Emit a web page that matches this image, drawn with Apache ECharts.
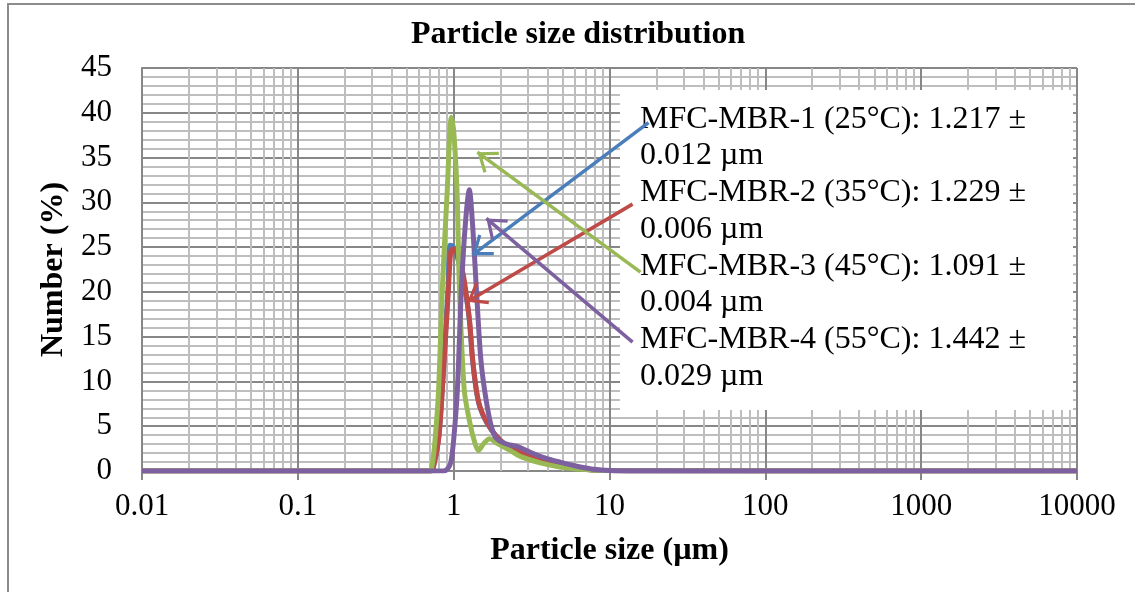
<!DOCTYPE html>
<html>
<head>
<meta charset="utf-8">
<script src="https://cdn.jsdelivr.net/npm/echarts@6/dist/echarts.min.js"></script>
<style>
  html, body { margin: 0; padding: 0; background: #fff; }
  #chart { width: 1135px; height: 592px; }
</style>
</head>
<body>
<div id="chart"></div>
<script>
// 数据
var xTickLabels = ['0.01', '0.1', '1', '10', '100', '1000', '10000'];

var size1 = [0.01, 0.71, 0.74, 0.80, 0.845, 0.92, 0.95, 0.99, 1.05, 1.14, 1.22, 1.27, 1.32, 1.40, 1.48, 1.64, 1.9, 2.3, 3.1, 4.2, 5.6, 7.5, 10, 15, 10000];
var number1 = [0, 0, 0.4, 3.6, 9.2, 20.5, 25.2, 25.1, 24, 21.5, 18.8, 16.2, 12.5, 8.9, 7.0, 5.3, 3.8, 2.6, 1.8, 1.0, 0.45, 0.15, 0.05, 0, 0];

var size2 = [0.01, 0.72, 0.74, 0.80, 0.845, 0.925, 0.96, 1.0, 1.06, 1.15, 1.22, 1.27, 1.32, 1.40, 1.48, 1.64, 1.9, 2.3, 3.1, 4.2, 5.6, 7.5, 10, 15, 10000];
var number2 = [0, 0, 0.4, 3.5, 9, 20.2, 24.6, 24.8, 24, 22, 19, 16.5, 12.7, 9, 7.1, 5.4, 3.8, 2.6, 1.8, 1.0, 0.45, 0.15, 0.05, 0, 0];

var size3 = [0.01, 0.70, 0.73, 0.76, 0.80, 0.845, 0.91, 0.966, 1.0, 1.05, 1.09, 1.17, 1.27, 1.37, 1.44, 1.55, 1.7, 1.9, 2.3, 2.7, 3.6, 4.8, 6.5, 9, 10000];
var number3 = [0, 0, 0.8, 3.5, 9, 20.2, 31.4, 39.5, 38, 31.4, 20.2, 9, 5.4, 3.1, 2.3, 3.0, 3.6, 3.1, 2.3, 1.6, 0.9, 0.45, 0.2, 0.05, 0];

var size4 = [0.01, 0.86, 0.92, 0.96, 1.0, 1.056, 1.12, 1.19, 1.26, 1.32, 1.40, 1.49, 1.58, 1.72, 1.85, 2.05, 2.3, 2.6, 3.1, 3.8, 4.8, 6.5, 8.8, 12, 10000];
var number4 = [0, 0, 0.3, 1.0, 3.5, 9, 20.2, 27.7, 31.4, 27.7, 20.2, 12.7, 9, 5.4, 3.8, 3.2, 2.9, 2.7, 2.1, 1.5, 1.0, 0.45, 0.1, 0.02, 0];

var legendLines = [
  'MFC-MBR-1 (25°C): 1.217 ±', '0.012 µm',
  'MFC-MBR-2 (35°C): 1.229 ±', '0.006 µm',
  'MFC-MBR-3 (45°C): 1.091 ±', '0.004 µm',
  'MFC-MBR-4 (55°C): 1.442 ±', '0.029 µm'
];

var FONT = 'Liberation Serif, Times New Roman, serif';
var colors = ['#4A7EBB', '#BE4B48', '#98B954', '#7D60A0'];
// open arrow head (V shape) pointing up, tip at the centre of its box
var chevron = 'path://M10,-14.5 L10.01,-14.5 L10,-14.49 Z M10,0 L20,13 L18,14.5 L10,4 L2,14.5 L0,13 Z';

function zip (xs, ys) {
  return xs.map(function (x, i) { return [x, ys[i]]; });
}

// minor log gridlines 2..9 in each decade
var minorX = [];
[0.01, 0.1, 1, 10, 100, 1000].forEach(function (d) {
  for (var k = 2; k <= 9; k++) minorX.push(+(k * d).toPrecision(3));
});

function curve (data, color, arrow) {
  return {
    type: 'line',
    data: data,
    smooth: 0.3,
    showSymbol: false,
    silent: true,
    lineStyle: { color: color, width: 5 },
    itemStyle: { color: color },
    z: 2,
    markLine: {
      silent: true,
      symbol: ['none', chevron],
      symbolSize: [26, 38],
      label: { show: false },
      lineStyle: { color: color, width: 3.5, type: 'solid' },
      data: [[{ coord: arrow[0] }, { coord: arrow[1] }]]
    }
  };
}

var chart = echarts.init(document.getElementById('chart'));
var option = {
  animation: false,
  backgroundColor: '#fff',
  title: {
    text: 'Particle size distribution',
    left: 411,
    top: 19,
    padding: 0,
    textStyle: { fontFamily: FONT, fontWeight: 'bold', fontSize: 32, color: '#000' }
  },
  grid: { left: 142, right: 58, top: 68, bottom: 121, containLabel: false },
  xAxis: {
    type: 'log',
    logBase: 10,
    min: 0.01,
    max: 10000,
    name: 'Particle size (µm)',
    nameLocation: 'middle',
    nameGap: 64,
    nameTextStyle: { fontFamily: FONT, fontWeight: 'bold', fontSize: 32, color: '#000' },
    axisLine: { lineStyle: { color: '#878787', width: 2 } },
    axisTick: { show: true, length: 9, lineStyle: { color: '#878787', width: 2 } },
    axisLabel: {
      margin: 20,
      fontFamily: FONT,
      fontSize: 31,
      color: '#000',
      formatter: function (v, i) { return xTickLabels[i]; }
    },
    splitLine: { show: true, lineStyle: { color: '#878787', width: 2 } }
  },
  yAxis: {
    type: 'value',
    min: 0,
    max: 45,
    interval: 5,
    name: 'Number (%)',
    nameLocation: 'middle',
    nameGap: 64,
    nameTextStyle: { fontFamily: FONT, fontWeight: 'bold', fontSize: 32, color: '#000' },
    axisLine: { show: true, lineStyle: { color: '#878787', width: 2 } },
    axisTick: { show: false },
    axisLabel: { margin: 30, fontFamily: FONT, fontSize: 31, color: '#000' },
    splitLine: { show: true, lineStyle: { color: '#878787', width: 2 } },
    minorTick: { show: false, splitNumber: 5 },
    minorSplitLine: { show: true, lineStyle: { color: '#BEBEBE', width: 2 } }
  },
  graphic: [
    {
      type: 'rect',
      z: 3,
      silent: true,
      shape: { x: 620, y: 90, width: 453, height: 320 },
      style: { fill: '#fff' }
    },
    {
      type: 'text',
      z: 4,
      silent: true,
      left: 640,
      top: 101,
      style: {
        text: legendLines.join('\n'),
        fontFamily: FONT,
        fontSize: 32,
        lineHeight: 36.7,
        fill: '#000'
      }
    },
    {
      type: 'rect',
      z: 6,
      silent: true,
      shape: { x: 8, y: 4, width: 1200, height: 700 },
      style: { fill: 'none', stroke: '#8C8C8C', lineWidth: 2 }
    }
  ],
  series: [
    {
      type: 'line',
      data: [],
      z: 1,
      silent: true,
      markLine: {
        z: 1,
        silent: true,
        symbol: 'none',
        label: { show: false },
        lineStyle: { color: '#BEBEBE', width: 2, type: 'solid' },
        data: minorX.map(function (v) { return { xAxis: v }; })
      }
    },
    curve(zip(size1, number1), colors[0], [[17.8, 38.9], [1.318, 24.1]]),
    curve(zip(size2, number2), colors[1], [[14.06, 29.8], [1.224, 18.9]]),
    curve(zip(size3, number3), colors[2], [[15.8, 22.2], [1.42, 35.6]]),
    curve(zip(size4, number4), colors[3], [[14.06, 14.4], [1.62, 28.2]])
  ]
};
chart.setOption(option, true);
</script>
</body>
</html>
